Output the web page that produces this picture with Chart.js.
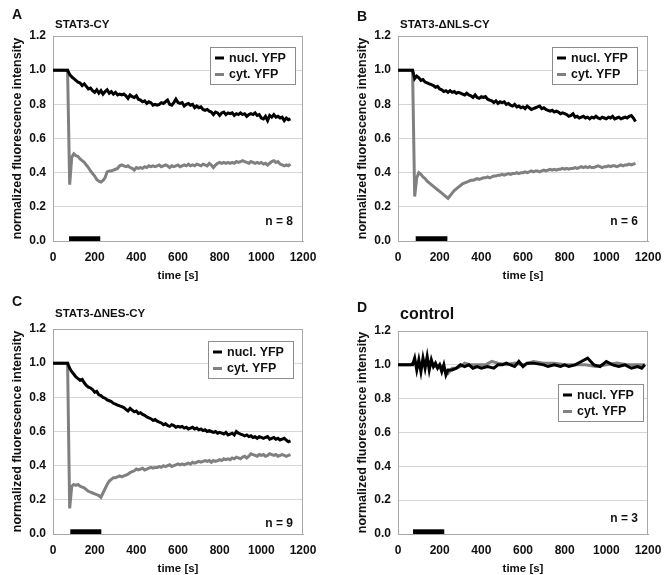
<!DOCTYPE html>
<html>
<head>
<meta charset="utf-8">
<script src="https://cdn.jsdelivr.net/npm/chart.js@4.4.1/dist/chart.umd.min.js"></script>
<style>
  html, body { margin: 0; padding: 0; background: #fff; overflow: hidden; }
  #wrap { position: relative; width: 664px; height: 575px; }
  .panel { position: absolute; }
</style>
</head>
<body>
<div id="wrap">
  <div class="panel" style="left:0;top:0"><canvas id="chartA" width="319" height="287"></canvas></div>
  <div class="panel" style="left:345px;top:0"><canvas id="chartB" width="319" height="287"></canvas></div>
  <div class="panel" style="left:0;top:293px"><canvas id="chartC" width="319" height="287"></canvas></div>
  <div class="panel" style="left:345px;top:293px"><canvas id="chartD" width="319" height="287"></canvas></div>
</div>
<script>
// time points (s) for panels A-C, one row per 100 s
const timeABC = [
  0, 10, 20, 30, 40, 50, 60, 70, 80, 90,
  100, 110, 120, 130, 140, 150, 160, 170, 180, 190,
  200, 210, 220, 230, 240, 250, 260, 270, 280, 290,
  300, 310, 320, 330, 340, 350, 360, 370, 380, 390,
  400, 410, 420, 430, 440, 450, 460, 470, 480, 490,
  500, 510, 520, 530, 540, 550, 560, 570, 580, 590,
  600, 610, 620, 630, 640, 650, 660, 670, 680, 690,
  700, 710, 720, 730, 740, 750, 760, 770, 780, 790,
  800, 810, 820, 830, 840, 850, 860, 870, 880, 890,
  900, 910, 920, 930, 940, 950, 960, 970, 980, 990,
  1000, 1010, 1020, 1030, 1040, 1050, 1060, 1070, 1080, 1090,
  1100, 1110, 1120, 1130, 1140
];

// A: STAT3-CY
const nuclA = [
  1, 1, 1, 1, 1, 1, 1, 1, 0.975, 0.96,
  0.95, 0.94, 0.93, 0.925, 0.91, 0.92, 0.905, 0.89, 0.895, 0.88,
  0.87, 0.885, 0.865, 0.88, 0.86, 0.875, 0.885, 0.865, 0.875, 0.86,
  0.87, 0.855, 0.86, 0.855, 0.86, 0.85, 0.835, 0.855, 0.845, 0.84,
  0.85, 0.83, 0.825, 0.815, 0.82, 0.805, 0.815, 0.81, 0.795, 0.8,
  0.795, 0.8, 0.81, 0.805, 0.815, 0.825, 0.8, 0.795, 0.81, 0.83,
  0.81, 0.805, 0.81, 0.79, 0.8, 0.805, 0.795, 0.8, 0.78, 0.79,
  0.78, 0.785, 0.77, 0.765, 0.77, 0.76, 0.755, 0.74, 0.755, 0.75,
  0.735, 0.75, 0.755, 0.74, 0.75, 0.745, 0.75, 0.735, 0.745, 0.74,
  0.75, 0.74, 0.745, 0.73, 0.74, 0.745, 0.74, 0.75, 0.735, 0.74,
  0.72, 0.715, 0.73, 0.705, 0.735, 0.725, 0.74, 0.725, 0.73, 0.72,
  0.725, 0.705, 0.72, 0.71, 0.715
];
const cytA = [
  1, 1, 1, 1, 1, 1, 1, 1, 0.33, 0.49,
  0.51, 0.50, 0.495, 0.48, 0.47, 0.46, 0.445, 0.43, 0.41, 0.395,
  0.38, 0.36, 0.35, 0.345, 0.355, 0.37, 0.405, 0.41, 0.41, 0.415,
  0.42, 0.425, 0.44, 0.445, 0.44, 0.435, 0.44, 0.43, 0.425, 0.415,
  0.43, 0.425, 0.43, 0.425, 0.435, 0.43, 0.44, 0.435, 0.44, 0.435,
  0.44, 0.445, 0.435, 0.44, 0.445, 0.44, 0.43, 0.44, 0.435, 0.44,
  0.445, 0.435, 0.44, 0.445, 0.44, 0.45, 0.44, 0.445, 0.44, 0.45,
  0.445, 0.44, 0.45, 0.445, 0.44, 0.455, 0.445, 0.43, 0.445, 0.455,
  0.46, 0.455, 0.46, 0.455, 0.46, 0.455, 0.46, 0.455, 0.465, 0.46,
  0.465, 0.47, 0.465, 0.46, 0.455, 0.465, 0.46, 0.455, 0.46, 0.455,
  0.46, 0.45, 0.455, 0.445, 0.455, 0.465, 0.47, 0.46, 0.465, 0.45,
  0.445, 0.44, 0.445, 0.44, 0.45
];

// B: STAT3-dNLS-CY
const nuclB = [
  1, 1, 1, 1, 1, 1, 1, 1, 0.95, 0.965,
  0.955, 0.94, 0.945, 0.93, 0.925, 0.92, 0.915, 0.91, 0.9, 0.905,
  0.89, 0.885, 0.875, 0.88, 0.87, 0.88, 0.87, 0.875, 0.865, 0.87,
  0.865, 0.86, 0.855, 0.865, 0.855, 0.85, 0.84, 0.855, 0.84, 0.835,
  0.845, 0.84, 0.845, 0.83, 0.825, 0.82, 0.81, 0.82, 0.805, 0.815,
  0.81, 0.815, 0.8, 0.805, 0.795, 0.79, 0.8, 0.785, 0.79, 0.78,
  0.785, 0.775, 0.79, 0.78, 0.77, 0.775, 0.78, 0.785, 0.79, 0.775,
  0.78, 0.77, 0.765, 0.76, 0.765, 0.755, 0.76, 0.755, 0.745, 0.75,
  0.745, 0.74, 0.73, 0.735, 0.745, 0.725, 0.73, 0.72, 0.725, 0.73,
  0.72, 0.725, 0.715, 0.725, 0.72, 0.73, 0.72, 0.715, 0.725, 0.72,
  0.715, 0.725, 0.72, 0.73, 0.715, 0.72, 0.725, 0.715, 0.72, 0.725,
  0.72, 0.73, 0.735, 0.72, 0.70
];
const cytB = [
  1, 1, 1, 1, 1, 1, 1, 1, 0.26, 0.37,
  0.40, 0.39, 0.375, 0.365, 0.35, 0.34, 0.33, 0.32, 0.31, 0.30,
  0.29, 0.28, 0.27, 0.26, 0.25, 0.265, 0.28, 0.295, 0.305, 0.315,
  0.325, 0.335, 0.34, 0.345, 0.35, 0.355, 0.355, 0.36, 0.365, 0.36,
  0.365, 0.37, 0.37, 0.375, 0.37, 0.375, 0.38, 0.38, 0.385, 0.385,
  0.39, 0.385, 0.39, 0.395, 0.39, 0.395, 0.395, 0.40, 0.395, 0.40,
  0.40, 0.405, 0.40, 0.405, 0.41, 0.405, 0.41, 0.41, 0.405, 0.41,
  0.415, 0.41, 0.415, 0.42, 0.415, 0.42, 0.415, 0.42, 0.42, 0.425,
  0.42, 0.425, 0.42, 0.425, 0.425, 0.43, 0.425, 0.43, 0.435, 0.43,
  0.435, 0.43, 0.435, 0.43, 0.43, 0.435, 0.44, 0.435, 0.43, 0.435,
  0.435, 0.44, 0.435, 0.44, 0.44, 0.435, 0.44, 0.445, 0.44, 0.445,
  0.445, 0.45, 0.445, 0.45, 0.455
];

// C: STAT3-dNES-CY
const nuclC = [
  1, 1, 1, 1, 1, 1, 1, 1, 0.97, 0.95,
  0.935, 0.92, 0.91, 0.9, 0.905, 0.885, 0.87, 0.86, 0.855, 0.845,
  0.83, 0.835, 0.815, 0.81, 0.8, 0.795, 0.785, 0.78, 0.775, 0.765,
  0.76, 0.755, 0.75, 0.745, 0.74, 0.73, 0.72, 0.735, 0.725, 0.715,
  0.72, 0.705, 0.71, 0.7, 0.695, 0.685, 0.68, 0.675, 0.665, 0.67,
  0.66, 0.655, 0.65, 0.64, 0.645, 0.635, 0.63, 0.64, 0.635, 0.625,
  0.63, 0.625, 0.63, 0.62, 0.625, 0.615, 0.62, 0.625, 0.615, 0.62,
  0.61, 0.615, 0.605, 0.61, 0.6, 0.605, 0.6, 0.595, 0.6, 0.59,
  0.595, 0.59, 0.585, 0.595, 0.58, 0.585, 0.59, 0.58, 0.6, 0.59,
  0.585, 0.58, 0.575, 0.58, 0.57, 0.575, 0.565, 0.57, 0.56, 0.57,
  0.565, 0.56, 0.565, 0.57, 0.555, 0.56, 0.565, 0.555, 0.56, 0.55,
  0.555, 0.56, 0.55, 0.54, 0.545
];
const cytC = [
  1, 1, 1, 1, 1, 1, 1, 1, 0.15, 0.28,
  0.29, 0.285, 0.29, 0.28, 0.275, 0.27, 0.26, 0.25, 0.245, 0.24,
  0.235, 0.23, 0.225, 0.215, 0.24, 0.265, 0.29, 0.31, 0.32, 0.33,
  0.33, 0.335, 0.34, 0.335, 0.34, 0.345, 0.35, 0.36, 0.365, 0.37,
  0.38, 0.375, 0.38, 0.385, 0.375, 0.38, 0.385, 0.39, 0.385, 0.39,
  0.39, 0.395, 0.39, 0.4, 0.395, 0.4, 0.405, 0.395, 0.4, 0.405,
  0.41, 0.405, 0.41, 0.405, 0.41, 0.415, 0.41, 0.42, 0.415, 0.42,
  0.425, 0.42, 0.425, 0.43, 0.425, 0.43, 0.42, 0.43, 0.425, 0.43,
  0.435, 0.43, 0.44, 0.435, 0.44, 0.435, 0.445, 0.44, 0.45, 0.445,
  0.44, 0.45, 0.455, 0.445, 0.455, 0.47, 0.465, 0.46, 0.455, 0.465,
  0.46, 0.465, 0.455, 0.46, 0.47, 0.465, 0.46, 0.465, 0.455, 0.46,
  0.465, 0.46, 0.455, 0.46, 0.465
];

// D: control (sampled irregularly)
const timeNuclD = [
  0, 20, 40, 60,
  70, 80, 90, 100, 110, 120, 130, 140, 150, 160, 170, 180, 190, 200, 210, 220, 230, 240,
  260, 280, 300, 320, 340, 360, 380, 400,
  430, 460, 480, 500, 520, 540, 560, 580, 600, 620, 650,
  700, 720, 750, 780, 800, 820, 850, 880, 910, 940, 970,
  1000, 1030, 1060, 1090, 1120, 1150, 1170, 1185
];
const nuclD = [
  1, 1, 1, 1,
  1.0, 1.04, 0.97, 1.03, 0.96, 1.04, 0.98, 1.05, 0.97, 1.03, 0.99, 1.01, 0.98, 1.0, 0.96, 1.0, 0.94, 0.97,
  0.97, 0.98, 1.0, 0.99, 1.0, 0.98, 0.99, 0.98,
  0.99, 0.98, 1.0, 1.0, 1.01, 1.0, 0.99, 1.02, 0.99, 1.01, 1.01,
  1.0, 0.99, 1.0, 0.99, 1.0, 0.99, 1.0, 1.02, 1.04, 1.0, 0.99,
  1.02, 1.0, 0.99, 1.0, 0.98, 0.99, 0.98, 1.0
];
const timeCytD = [
  0, 20, 40, 60,
  80, 100, 120, 140, 160, 180, 200, 220, 240, 260, 280, 300, 320,
  350, 380, 420, 450, 480, 520, 560, 600, 650,
  700, 750, 800, 850, 900, 950, 1000, 1050, 1100, 1150, 1185
];
const cytD = [
  1, 1, 1, 1,
  1.02, 0.99, 1.01, 1.03, 1.0, 0.99, 1.0, 0.98, 0.95, 0.98, 0.98, 0.99, 1.01,
  1.0, 1.0, 1.0, 1.02, 1.01, 1.0, 1.01, 1.0, 1.02,
  1.01, 1.01, 1.0, 1.0, 1.0, 0.99, 1.0, 1.01, 1.0, 1.0, 1.0
];

// black bars on the x axis: stimulation window (s)
const barA = [77, 227];
const barB = [85, 237];
const barC = [83, 232];
const barD = [72, 222];

const xTicks = [0, 200, 400, 600, 800, 1000, 1200];
const yTicks = [0, 0.2, 0.4, 0.6, 0.8, 1.0, 1.2];
const seriesLabels = ["nucl. YFP", "cyt. YFP"];

const FONT = "'Liberation Sans', Arial, sans-serif";
const BLACK = "#000000";
const GREY = "#808080";

// frame, letters, titles, inline legend and n label
const panelDecor = {
  id: "panelDecor",
  beforeDatasetsDraw(chart, args, o) {
    const { ctx, chartArea: a } = chart;
    ctx.save();
    ctx.strokeStyle = "#a8a8a8";
    ctx.lineWidth = 1;
    ctx.strokeRect(a.left + 0.5, a.top + 0.5, a.width - 1, a.height);
    ctx.restore();
  },
  afterDraw(chart, args, o) {
    const { ctx, chartArea: a } = chart;
    ctx.save();
    ctx.fillStyle = "#111";
    ctx.textBaseline = "middle";

    ctx.font = "bold 14px " + FONT;
    ctx.textAlign = "center";
    ctx.fillText(o.letter, a.left - 36, o.letterY);

    ctx.font = "bold " + o.titleSize + "px " + FONT;
    ctx.textAlign = "left";
    ctx.fillText(o.title, a.left + 2, o.titleY);

    // legend box
    const w = 85, h = 37;
    const bx = a.right - o.legRight - w;
    const by = a.top + o.legTop;
    ctx.fillStyle = "#fff";
    ctx.fillRect(bx, by, w, h);
    ctx.strokeStyle = "#8c8c8c";
    ctx.lineWidth = 1;
    ctx.strokeRect(Math.round(bx) + 0.5, Math.round(by) + 0.5, w, h);
    ctx.font = "bold 12.5px " + FONT;
    [0, 1].forEach((i) => {
      const ds = chart.data.datasets[i];
      const ry = by + 11 + i * 16.5;
      ctx.strokeStyle = ds.borderColor;
      ctx.lineWidth = 3;
      ctx.beginPath();
      ctx.moveTo(bx + 5, ry);
      ctx.lineTo(bx + 14, ry);
      ctx.stroke();
      ctx.fillStyle = "#111";
      ctx.fillText(ds.label, bx + 19, ry + 0.5);
    });

    ctx.font = "bold 12px " + FONT;
    ctx.textAlign = "right";
    ctx.fillText("n = " + o.n, a.right - 10, a.bottom - o.nUp);
    ctx.restore();
  }
};

function pts(times, values) {
  return values.map((v, i) => ({ x: times[i], y: v }));
}

function makePanel(id, tN, nucl, tC, cyt, bar, decor) {
  new Chart(document.getElementById(id), {
    type: "line",
    data: {
      datasets: [
        { label: seriesLabels[0], data: pts(tN, nucl), borderColor: BLACK, borderWidth: 3, order: 1 },
        { label: seriesLabels[1], data: pts(tC, cyt), borderColor: GREY, borderWidth: 3, order: 2 },
        { label: "bar", data: [{ x: bar[0], y: 0.013 }, { x: bar[1], y: 0.013 }],
          borderColor: BLACK, borderWidth: 5, borderCapStyle: "butt", order: 0 }
      ]
    },
    options: {
      responsive: false,
      animation: false,
      events: [],
      layout: { padding: { top: decor.top, right: 16, left: 0, bottom: 0 } },
      elements: { point: { radius: 0 }, line: { tension: 0 } },
      plugins: {
        legend: { display: false },
        tooltip: { enabled: false },
        panelDecor: decor
      },
      scales: {
        x: {
          type: "linear",
          min: 0,
          max: 1200,
          afterBuildTicks: (s) => { s.ticks = xTicks.map((v) => ({ value: v })); },
          afterFit: (s) => { s.height = 46; s.paddingLeft = 0; s.paddingRight = 0; },
          grid: { display: false, drawTicks: false },
          border: { display: true, color: "#a8a8a8" },
          ticks: { padding: 9, color: "#111", font: { family: FONT, size: 12, weight: "bold" }, maxRotation: 0,
                   callback: (v) => String(v) },
          title: { display: true, text: "time [s]", color: "#111", padding: { top: 0, bottom: 4 },
                   font: { family: FONT, size: 11.5, weight: "bold" } }
        },
        y: {
          min: 0,
          max: 1.2,
          afterBuildTicks: (s) => { s.ticks = yTicks.map((v) => ({ value: v })); },
          afterFit: (s) => { s.width = 53; s.paddingTop = 0; s.paddingBottom = 0; },
          grid: { color: "#d6d6d6", drawTicks: false },
          border: { display: true, color: "#a8a8a8" },
          ticks: { padding: 7, color: "#111", font: { family: FONT, size: 12, weight: "bold" },
                   callback: (v) => Number(v).toFixed(1) },
          title: { display: true, text: "normalized fluorescence intensity", color: "#111",
                   padding: { top: 10, bottom: 0 }, font: { family: FONT, size: 12.5, weight: "bold" } }
        }
      }
    },
    plugins: [panelDecor]
  });
}

makePanel("chartA", timeABC, nuclA, timeABC, cytA, barA,
  { top: 36, letter: "A", letterY: 15, title: "STAT3-CY", titleSize: 11.5, titleY: 25,
    legRight: 8, legTop: 11, n: 8, nUp: 19 });
makePanel("chartB", timeABC, nuclB, timeABC, cytB, barB,
  { top: 36, letter: "B", letterY: 17, title: "STAT3-\u0394NLS-CY", titleSize: 11.5, titleY: 25,
    legRight: 11, legTop: 11, n: 6, nUp: 19 });
makePanel("chartC", timeABC, nuclC, timeABC, cytC, barC,
  { top: 36, letter: "C", letterY: 9, title: "STAT3-\u0394NES-CY", titleSize: 11.5, titleY: 21,
    legRight: 10, legTop: 12, n: 9, nUp: 10 });
makePanel("chartD", timeNuclD, nuclD, timeCytD, cytD, barD,
  { top: 38, letter: "D", letterY: 15, title: "control", titleSize: 16, titleY: 22,
    legRight: 5, legTop: 53, n: 3, nUp: 15 });
</script>
</body>
</html>
